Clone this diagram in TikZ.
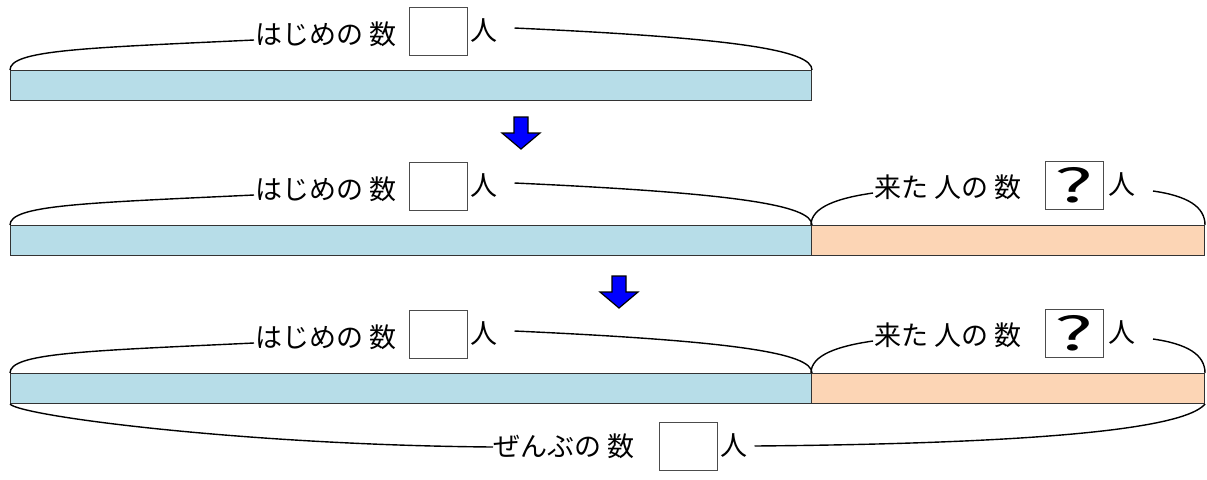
\documentclass[tikz,border=0pt]{standalone}
\usepackage{fontspec}
\newfontfamily\jpfont{Noto Sans CJK JP}
\usetikzlibrary{positioning}
\definecolor{barblue}{RGB}{183,221,232}
\definecolor{barorange}{RGB}{252,213,181}

\begin{document}
\begin{tikzpicture}[x=0.5pt,y=-0.5pt,line width=0.5pt]

  \tikzset{bar/.style={draw=black!80,anchor=north west,minimum height=15pt,inner sep=0pt}}
  \tikzset{lbl/.style={font=\jpfont\fontsize{13.5pt}{14pt}\selectfont,inner sep=0pt,anchor=west}}
  \tikzset{numbox/.style={draw=black!70,minimum width=29pt,minimum height=24pt,inner sep=0pt}}
  \tikzset{quest/.style={numbox,font=\jpfont\fontsize{23pt}{23pt}\selectfont}}
  \tikzset{brace/.style={draw=black,line width=0.7pt}}
  \tikzset{downarrow/.pic={
      \draw[fill=blue,line width=0.6pt,line join=miter]
      (-7,0) -- (7,0) -- (7,16) -- (19,16) -- (0,32) -- (-19,16) -- (-7,16) -- cycle;}}
  \useasboundingbox (0,0) rectangle (1207,479);

  % first row
  \node[bar,fill=barblue,minimum width=400.5pt] (bar1) at (10,70) {};
  \node[lbl] (start1) at (255,34) {はじめの 数};
  \node[numbox] (box1) at (438,31) {};
  \node[lbl] (nin1) [right = 1pt of box1] {人};

  \pic at (521,117) {downarrow};

  % second row
  \node[bar,fill=barblue,minimum width=400.5pt] (bar2) at (10,225) {};
  \node[bar,fill=barorange,minimum width=196.5pt] (bar2b) at (811,225) {};
  \node[lbl] (start2) at (255,189) {はじめの 数};
  \node[numbox] (box2) at (438,186) {};
  \node[lbl] (nin2) [right = 1pt of box2] {人};
  \node[lbl] (came2) at (874,187) {来た 人の 数};
  \node[quest] (qbox2) at (1074.5,185) {\scalebox{1.8}[1]{?}};
  \node[lbl] (cnin2) [right = 2pt of qbox2] {人};

  \pic at (619,276) {downarrow};

  % third row
  \node[bar,fill=barblue,minimum width=400.5pt] (bar3) at (10,373) {};
  \node[bar,fill=barorange,minimum width=196.5pt] (bar3b) at (811,373) {};
  \node[lbl] (start3) at (255,337) {はじめの 数};
  \node[numbox] (box3) at (438,334) {};
  \node[lbl] (nin3) [right = 1pt of box3] {人};
  \node[lbl] (came3) at (874,335) {来た 人の 数};
  \node[quest] (qbox3) at (1074.5,333) {\scalebox{1.8}[1]{?}};
  \node[lbl] (cnin3) [right = 2pt of qbox3] {人};
  \node[lbl] (total) at (493,446) {ぜんぶの 数};
  \node[numbox] (tbox) at (688,446) {};
  \node[lbl] (tnin) [right = 1pt of tbox] {人};

  % braces
  \draw[brace] (bar1.north west) .. controls +(0,-20) and +(-170,8) .. ([shift={(-1,6)}]start1.west);
  \draw[brace] ([shift={(17,-3)}]nin1.east) .. controls +(220,10) and +(0,-20) .. (bar1.north east);
  \draw[brace] (bar2.north west) .. controls +(0,-20) and +(-170,8) .. ([shift={(-1,6)}]start2.west);
  \draw[brace] ([shift={(17,-3)}]nin2.east) .. controls +(220,10) and +(0,-20) .. (bar2.north east);
  \draw[brace] (bar2b.north west) .. controls +(0,-18) and +(-35,5) .. ([shift={(-1,6)}]came2.west);
  \draw[brace] ([shift={(17,6)}]cnin2.east) .. controls +(35,5) and +(0,-18) .. (bar2b.north east);
  \draw[brace] (bar3.north west) .. controls +(0,-20) and +(-170,8) .. ([shift={(-1,6)}]start3.west);
  \draw[brace] ([shift={(17,-3)}]nin3.east) .. controls +(220,10) and +(0,-20) .. (bar3.north east);
  \draw[brace] (bar3b.north west) .. controls +(0,-18) and +(-35,5) .. ([shift={(-1,6)}]came3.west);
  \draw[brace] ([shift={(17,6)}]cnin3.east) .. controls +(35,5) and +(0,-18) .. (bar3b.north east);
  \draw[brace] (bar3.south west) .. controls +(10,12) and +(-250,-2) .. ([shift={(0,1)}]total.west);
  \draw[brace] ([shift={(7,0)}]tnin.east) .. controls +(350,-3) and +(-15,18) .. (bar3b.south east);

\end{tikzpicture}
\end{document}
